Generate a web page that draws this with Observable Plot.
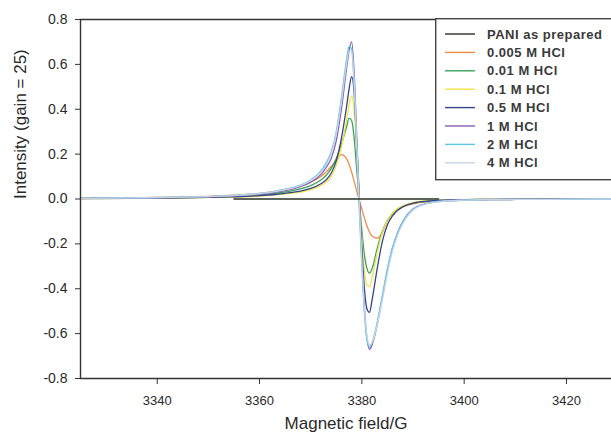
<!DOCTYPE html>
<html>
<head>
<meta charset="utf-8">
<script src="https://cdn.jsdelivr.net/npm/d3@7"></script>
<script src="https://cdn.jsdelivr.net/npm/@observablehq/plot@0.6"></script>
<style>
  html, body { margin: 0; padding: 0; background: #fff; overflow: hidden; }
  #wrap { position: relative; width: 611px; height: 434px; overflow: hidden; font-family: "Liberation Sans", Arial, sans-serif; }
  #legend { position: absolute; left: 435px; top: 18px; }
</style>
</head>
<body>
<div id="wrap"></div>
<script>
// Magnetic field (G)
const fields = [3325, 3335, 3345, 3350, 3355, 3360, 3363, 3366, 3368, 3370,
                3372, 3373, 3374, 3375, 3376, 3377, 3377.5, 3378, 3378.5, 3379,
                3379.5, 3380, 3380.5, 3381, 3381.5, 3382, 3383, 3384, 3385, 3386,
                3387, 3388, 3390, 3393, 3396, 3400, 3405, 3410, 3420, 3429];

const hcl0005 = [0.004, 0.006, 0.009, 0.012, 0.017, 0.025, 0.034, 0.047, 0.058, 0.075,
                 0.10, 0.12, 0.145, 0.175, 0.198, 0.18, 0.155, 0.12, 0.078, 0.035,
                 -0.005, -0.045, -0.085, -0.12, -0.148, -0.165, -0.175, -0.15, -0.095, -0.064,
                 -0.046, -0.034, -0.022, -0.012, -0.007, -0.005, -0.003, -0.002, -0.001, 0];
const hcl001 = [0.003, 0.004, 0.006, 0.008, 0.012, 0.018, 0.025, 0.035, 0.045, 0.06,
                0.085, 0.105, 0.135, 0.18, 0.245, 0.32, 0.36, 0.35, 0.27, 0.13,
                -0.01, -0.14, -0.25, -0.31, -0.33, -0.31, -0.22, -0.145, -0.095, -0.065,
                -0.045, -0.032, -0.018, -0.009, -0.005, -0.003, -0.002, -0.001, 0, 0];
const hcl01 = [0.002, 0.003, 0.005, 0.007, 0.009, 0.013, 0.018, 0.025, 0.031, 0.042,
               0.06, 0.075, 0.10, 0.15, 0.23, 0.35, 0.42, 0.46, 0.39, 0.20,
               0.0, -0.18, -0.32, -0.385, -0.39, -0.35, -0.24, -0.15, -0.095, -0.063,
               -0.043, -0.03, -0.016, -0.008, -0.005, -0.003, -0.002, -0.001, 0, 0];
const hcl05 = [0.002, 0.003, 0.005, 0.007, 0.010, 0.015, 0.020, 0.028, 0.035, 0.047,
               0.068, 0.085, 0.115, 0.17, 0.27, 0.41, 0.49, 0.545, 0.47, 0.24,
               0.0, -0.22, -0.40, -0.49, -0.505, -0.45, -0.31, -0.19, -0.115, -0.075,
               -0.05, -0.035, -0.018, -0.009, -0.005, -0.003, -0.002, -0.001, 0, 0];
const hcl1 = [0.003, 0.004, 0.007, 0.010, 0.014, 0.022, 0.030, 0.042, 0.055, 0.075,
              0.11, 0.14, 0.18, 0.26, 0.40, 0.58, 0.66, 0.70, 0.56, 0.28,
              0.0, -0.26, -0.48, -0.62, -0.67, -0.65, -0.56, -0.44, -0.32, -0.22,
              -0.15, -0.10, -0.045, -0.018, -0.009, -0.005, -0.003, -0.002, -0.001, 0];
const hcl2 = [0.003, 0.005, 0.008, 0.011, 0.016, 0.025, 0.034, 0.048, 0.062, 0.085,
              0.125, 0.16, 0.21, 0.30, 0.45, 0.62, 0.68, 0.67, 0.50, 0.22,
              -0.05, -0.30, -0.51, -0.63, -0.66, -0.64, -0.55, -0.43, -0.31, -0.215,
              -0.15, -0.10, -0.046, -0.018, -0.009, -0.005, -0.003, -0.002, -0.001, 0];
const hcl4 = [0.003, 0.005, 0.008, 0.011, 0.015, 0.024, 0.033, 0.046, 0.06, 0.082,
              0.12, 0.15, 0.20, 0.29, 0.43, 0.60, 0.66, 0.66, 0.52, 0.25,
              -0.02, -0.28, -0.49, -0.61, -0.65, -0.64, -0.56, -0.45, -0.33, -0.23,
              -0.16, -0.11, -0.05, -0.02, -0.01, -0.005, -0.003, -0.002, -0.001, 0];
const paniFields = [3355, 3395];
const paniValues = [0, 0];

const seriesNames = ["PANI as prepared", "0.005 M HCl", "0.01 M HCl", "0.1 M HCl", "0.5 M HCl", "1 M HCl", "2 M HCl", "4 M HCl"];
const seriesColors = ["#2a3226", "#f08a4b", "#3aa35b", "#f2e444", "#35438a", "#8c5cb2", "#5cc6e6", "#c9d5e6"];
const xTicks = [3340, 3360, 3380, 3400, 3420];
const yTicks = [-0.8, -0.6, -0.4, -0.2, 0.0, 0.2, 0.4, 0.6, 0.8];

const seriesValues = [null, hcl0005, hcl001, hcl01, hcl05, hcl1, hcl2, hcl4];
const rows = [];
seriesValues.forEach((vals, k) => {
  if (!vals) return;
  vals.forEach((v, i) => rows.push({field: fields[i], value: v, series: seriesNames[k]}));
});
const paniRows = paniFields.map((f, i) => ({field: f, value: paniValues[i], series: seriesNames[0]}));

const fmt = d => (Math.abs(d) < 1e-9 ? 0 : d).toFixed(1);

const plot = Plot.plot({
  width: 611,
  height: 434,
  marginLeft: 80,
  marginRight: 0,
  marginTop: 19,
  marginBottom: 56,
  style: {fontFamily: "'Liberation Sans', Arial, sans-serif", color: "#2a2a2a", background: "#fff"},
  x: {domain: [3325, 3428.8]},
  y: {domain: [-0.8, 0.8]},
  color: {domain: seriesNames, range: seriesColors},
  marks: [
    Plot.line(rows, {x: "field", y: "value", z: "series", stroke: "series", strokeWidth: 1.3, curve: "monotone-x"}),
    Plot.line(paniRows, {x: "field", y: "value", stroke: "series", strokeWidth: 1.4}),
    Plot.ruleX([3325], {stroke: "#333", strokeWidth: 1.4}),
    Plot.ruleY([0.8, -0.8], {stroke: "#333", strokeWidth: 1.4}),
    Plot.axisX({ticks: xTicks, tickFormat: d => String(d), tickSize: 6, tickPadding: 11, fontSize: 13, label: null, stroke: "#333"}),
    Plot.axisY({ticks: yTicks, tickFormat: fmt, tickSize: 5, tickPadding: 8, fontSize: 14, label: null, stroke: "#333"}),
    Plot.text(["Magnetic field/G"], {frameAnchor: "bottom", dy: 45, fontSize: 17, lineAnchor: "middle", fill: "#2a2a2a"}),
    Plot.text(["Intensity (gain = 25)"], {frameAnchor: "left", dx: -60, rotate: -90, fontSize: 17, lineAnchor: "middle", fill: "#2a2a2a", letterSpacing: "0.6px"})
  ]
});
document.getElementById("wrap").appendChild(plot);

// Legend box drawn inside the plot area
const lg = d3.select("#wrap").append("svg").attr("id", "legend").attr("width", 180).attr("height", 164);
lg.append("rect").attr("x", 0.7).attr("y", 0.7).attr("width", 200).attr("height", 161)
  .attr("fill", "#fff").attr("stroke", "#444").attr("stroke-width", 1.4);
seriesNames.forEach((name, i) => {
  const y = 16 + i * 18.4;
  lg.append("line").attr("x1", 10).attr("x2", 40).attr("y1", y).attr("y2", y)
    .attr("stroke", seriesColors[i]).attr("stroke-width", 1.4);
  lg.append("text").attr("x", 52).attr("y", y).attr("dy", "0.35em")
    .attr("font-family", "'Liberation Sans', Arial, sans-serif").attr("font-size", 13).attr("font-weight", "bold")
    .attr("letter-spacing", "0.5px")
    .attr("fill", "#3a3a3a").text(name);
});
</script>
</body>
</html>
